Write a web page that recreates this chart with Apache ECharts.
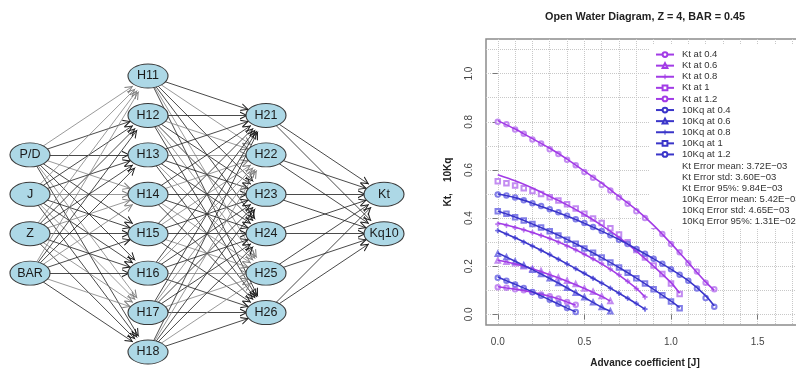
<!DOCTYPE html>
<html>
<head>
<meta charset="utf-8">
<script src="https://cdn.jsdelivr.net/npm/echarts@6/dist/echarts.min.js"></script>
<style>
  html, body { margin: 0; padding: 0; background: #fff; }
  #main { width: 796px; height: 370px; }
</style>
</head>
<body>
<div id="main"></div>
<script>
// ---- network diagram (left) ----
const inputNodes = ['P/D', 'J', 'Z', 'BAR'];
const hidden1Nodes = ['H11', 'H12', 'H13', 'H14', 'H15', 'H16', 'H17', 'H18'];
const hidden2Nodes = ['H21', 'H22', 'H23', 'H24', 'H25', 'H26'];
const outputNodes = ['Kt', 'Kq10'];
const layers = [inputNodes, hidden1Nodes, hidden2Nodes, outputNodes];
const layerRowStart = [2, 0, 1, 3];

// ---- open water diagram (right) ----
const pdValues = ['0.4', '0.6', '0.8', '1', '1.2'];

const jLine04 = [0, 0.1, 0.2, 0.3, 0.4, 0.45];
const jLine06 = [0, 0.1, 0.2, 0.3, 0.4, 0.5, 0.6, 0.65];
const jLine08 = [0, 0.1, 0.2, 0.3, 0.4, 0.5, 0.6, 0.7, 0.8, 0.85];
const jLine10 = [0, 0.1, 0.2, 0.3, 0.4, 0.5, 0.6, 0.7, 0.8, 0.9, 1.0, 1.05];
const jLine12 = [0, 0.1, 0.2, 0.3, 0.4, 0.5, 0.6, 0.7, 0.8, 0.9, 1.0, 1.1, 1.2, 1.25];
const jPoints = [0, 0.05, 0.1, 0.15, 0.2, 0.25, 0.3, 0.35, 0.4, 0.45, 0.5, 0.55, 0.6,
  0.65, 0.7, 0.75, 0.8, 0.85, 0.9, 0.95, 1.0, 1.05, 1.1, 1.15, 1.2, 1.25];

// predicted Kt
const ktLine04 = [0.115, 0.105, 0.092, 0.075, 0.052, 0.038];
const ktLine06 = [0.225, 0.21, 0.19, 0.165, 0.138, 0.108, 0.075, 0.055];
const ktLine08 = [0.38, 0.362, 0.34, 0.315, 0.285, 0.25, 0.21, 0.163, 0.108, 0.072];
const ktLine10 = [0.58, 0.555, 0.525, 0.49, 0.455, 0.415, 0.37, 0.32, 0.263, 0.2, 0.132, 0.088];
const ktLine12 = [0.805, 0.77, 0.73, 0.69, 0.645, 0.595, 0.545, 0.49, 0.435, 0.37, 0.295, 0.215, 0.135, 0.1];
// measured Kt
const ktPts04 = [0.113, 0.111, 0.104, 0.1, 0.092, 0.083, 0.075, 0.066, 0.052, 0.04];
const ktPts06 = [0.224, 0.219, 0.212, 0.2, 0.19, 0.18, 0.166, 0.153, 0.14, 0.126, 0.108, 0.094, 0.076, 0.056];
const ktPts08 = [0.375, 0.37, 0.36, 0.351, 0.34, 0.328, 0.316, 0.3, 0.284, 0.268, 0.25, 0.231, 0.212,
  0.188, 0.165, 0.138, 0.107, 0.072];
const ktPts10 = [0.553, 0.545, 0.535, 0.524, 0.513, 0.5, 0.487, 0.473, 0.458, 0.44, 0.418, 0.398, 0.38,
  0.358, 0.332, 0.3, 0.268, 0.236, 0.203, 0.168, 0.128, 0.085];
const ktPts12 = [0.8, 0.79, 0.768, 0.75, 0.727, 0.71, 0.686, 0.666, 0.642, 0.62, 0.592, 0.568, 0.538,
  0.515, 0.486, 0.46, 0.428, 0.4, 0.366, 0.334, 0.292, 0.258, 0.212, 0.178, 0.132, 0.105];

// predicted 10Kq
const kqLine04 = [0.155, 0.125, 0.094, 0.06, 0.026, 0.01];
const kqLine06 = [0.255, 0.221, 0.186, 0.149, 0.11, 0.07, 0.03, 0.013];
const kqLine08 = [0.35, 0.318, 0.284, 0.248, 0.21, 0.17, 0.13, 0.088, 0.045, 0.022];
const kqLine10 = [0.43, 0.405, 0.376, 0.345, 0.311, 0.275, 0.236, 0.195, 0.151, 0.104, 0.055, 0.028];
const kqLine12 = [0.5, 0.485, 0.462, 0.436, 0.409, 0.379, 0.346, 0.311, 0.272, 0.231, 0.188, 0.14, 0.078, 0.035];
// measured 10Kq
const kqPts04 = [0.152, 0.14, 0.124, 0.11, 0.093, 0.078, 0.061, 0.044, 0.027, 0.01];
const kqPts06 = [0.252, 0.238, 0.22, 0.204, 0.186, 0.168, 0.15, 0.13, 0.111, 0.09, 0.071, 0.05, 0.031, 0.013];
const kqPts08 = [0.348, 0.334, 0.318, 0.3, 0.284, 0.266, 0.249, 0.229, 0.21, 0.19, 0.171, 0.15, 0.13,
  0.109, 0.088, 0.067, 0.046, 0.022];
const kqPts10 = [0.428, 0.418, 0.404, 0.39, 0.376, 0.361, 0.345, 0.328, 0.31, 0.293, 0.274, 0.256, 0.236,
  0.216, 0.195, 0.173, 0.15, 0.128, 0.104, 0.08, 0.054, 0.026];
const kqPts12 = [0.498, 0.494, 0.486, 0.474, 0.462, 0.45, 0.437, 0.424, 0.41, 0.395, 0.38, 0.363, 0.346,
  0.329, 0.31, 0.292, 0.272, 0.252, 0.231, 0.21, 0.188, 0.165, 0.14, 0.108, 0.068, 0.032];

const xTicks = [0, 0.5, 1.0, 1.5];
const yTicks = [0, 0.2, 0.4, 0.6, 0.8, 1.0];
const errorLines = [
  'Kt Error mean: 3.72E\u221203',
  'Kt Error std: 3.60E\u221203',
  'Kt Error 95%: 9.84E\u221203',
  '10Kq Error mean: 5.42E\u221203',
  '10Kq Error std: 4.65E\u221203',
  '10Kq Error 95%: 1.31E\u221202'
];

const FONT = '"Liberation Sans", Arial, sans-serif';
const KT_COLOR = '#a23be6';
const KT_PT_COLOR = '#b978ee';
const KQ_COLOR = '#3a35c9';
const KQ_PT_COLOR = '#6d69e4';
const PLUS = 'path://M4,0 L6,0 L6,4 L10,4 L10,6 L6,6 L6,10 L4,10 L4,6 L0,6 L0,4 L4,4 Z';
const pdSymbols = ['emptyCircle', 'emptyTriangle', PLUS, 'emptyRect', 'emptyCircle'];

const jLines = [jLine04, jLine06, jLine08, jLine10, jLine12];
const ktLines = [ktLine04, ktLine06, ktLine08, ktLine10, ktLine12];
const ktPts = [ktPts04, ktPts06, ktPts08, ktPts10, ktPts12];
const kqLines = [kqLine04, kqLine06, kqLine08, kqLine10, kqLine12];
const kqPts = [kqPts04, kqPts06, kqPts08, kqPts10, kqPts12];

// graph nodes / links
const ELLIPSE = 'path://M20,-4 M0,12 A20,12 0 1,1 40,12 A20,12 0 1,1 0,12 Z M20,28';
const ARROW = 'path://M0,0 M16,16 M8,8 L12,16 L10.8,16 L8,10.2 L5.2,16 L4,16 Z';

const nodes = [];
layers.forEach((names, l) => {
  names.forEach((name, i) => {
    nodes.push({ name: name, value: [l, layerRowStart[l] + i] });
  });
});
const links = [];
for (let l = 0; l < layers.length - 1; l++) {
  layers[l].forEach((src, i) => {
    layers[l + 1].forEach((dst, j) => {
      const grey = (i * 3 + j * 2 + l) % 3 === 0;
      links.push({
        source: src,
        target: dst,
        lineStyle: { color: grey ? '#808080' : '#1c1c1c' }
      });
    });
  });
}

function makeCurveSeries(prefix, lines, pts, lineColor, ptColor) {
  const out = [];
  pdValues.forEach((pd, k) => {
    const name = prefix + ' at ' + pd;
    out.push({
      name: name,
      type: 'line',
      xAxisIndex: 0,
      yAxisIndex: 0,
      data: jLines[k].map((j, i) => [j, lines[k][i]]),
      smooth: 0.3,
      symbol: pdSymbols[k],
      symbolSize: 5,
      showSymbol: false,
      lineStyle: { color: lineColor, width: 1.6 },
      itemStyle: { color: lineColor },
      z: 3
    });
    out.push({
      name: name,
      type: 'scatter',
      xAxisIndex: 0,
      yAxisIndex: 0,
      data: pts[k].map((v, i) => [jPoints[i], v]),
      symbol: pdSymbols[k],
      symbolSize: 4.5,
      itemStyle: { color: ptColor, borderColor: ptColor, borderWidth: 1, opacity: 0.85 },
      z: 2
    });
  });
  return out;
}

const chart = echarts.init(document.getElementById('main'));

const option = {
  animation: false,
  backgroundColor: '#fff',
  textStyle: { fontFamily: FONT },
  grid: [
    {
      left: 486, right: -8, top: 39, bottom: 45,
      outerBoundsMode: 'none', containLabel: false,
      show: true, borderColor: '#8c8c8c', borderWidth: 1.5
    },
    { left: 30, width: 354, top: 76, height: 276, outerBoundsMode: 'none', show: false }
  ],
  xAxis: [
    {
      type: 'value',
      gridIndex: 0,
      min: -0.068,
      max: 1.768,
      splitNumber: 4,
      name: 'Advance coefficient [J]',
      nameLocation: 'middle',
      nameGap: 33,
      nameTextStyle: { fontFamily: FONT, fontSize: 10, fontWeight: 'bold', color: '#222' },
      axisLine: { show: false },
      axisTick: { show: true, customValues: xTicks, length: 5, lineStyle: { color: '#777' } },
      axisLabel: {
        customValues: xTicks,
        margin: 12,
        fontSize: 10,
        color: '#444',
        fontFamily: FONT,
        formatter: (v) => v.toFixed(1)
      },
      splitLine: { show: true, lineStyle: { color: '#c8c8c8', type: 'dotted', width: 1 } },
      minorTick: { show: false, splitNumber: 5 },
      minorSplitLine: { show: true, lineStyle: { color: '#c8c8c8', type: 'dotted', width: 1 } }
    },
    { type: 'value', gridIndex: 1, min: 0, max: 3, show: false }
  ],
  yAxis: [
    {
      type: 'value',
      gridIndex: 0,
      min: -0.044,
      max: 1.144,
      splitNumber: 5,
      name: 'Kt,    10Kq',
      nameLocation: 'middle',
      nameGap: 33,
      nameRotate: 90,
      nameTextStyle: { fontFamily: FONT, fontSize: 10, fontWeight: 'bold', color: '#222' },
      axisLine: { show: false },
      axisTick: { show: true, customValues: yTicks, length: 5, lineStyle: { color: '#777' } },
      axisLabel: {
        customValues: yTicks,
        rotate: 90,
        margin: 12,
        fontSize: 10,
        color: '#444',
        fontFamily: FONT,
        formatter: (v) => v.toFixed(1)
      },
      splitLine: { show: true, lineStyle: { color: '#c8c8c8', type: 'dotted', width: 1 } },
      minorTick: { show: false, splitNumber: 2 },
      minorSplitLine: { show: true, lineStyle: { color: '#c8c8c8', type: 'dotted', width: 1 } }
    },
    { type: 'value', gridIndex: 1, min: 0, max: 7, inverse: true, show: false }
  ],
  legend: {
    orient: 'vertical',
    left: 655,
    top: 49,
    itemWidth: 18,
    itemHeight: 6,
    itemGap: 0,
    selectedMode: false,
    padding: 0,
    textStyle: { fontFamily: FONT, fontSize: 9.5, color: '#333', lineHeight: 11.1, padding: [0, 0, 0, 3] },
    data: pdValues.map((p) => 'Kt at ' + p).concat(pdValues.map((p) => '10Kq at ' + p))
  },
  graphic: [
    {
      type: 'rect',
      z: 3,
      shape: { x: 650, y: 45, width: 146, height: 183 },
      style: { fill: '#fff' }
    },
    {
      type: 'text',
      x: 645,
      y: 17,
      style: {
        text: 'Open Water Diagram, Z = 4, BAR = 0.45',
        font: 'bold 10.8px ' + FONT,
        fill: '#222',
        align: 'center',
        verticalAlign: 'middle'
      }
    },
    {
      type: 'text',
      x: 682,
      y: 160.5,
      z: 4,
      style: {
        text: errorLines.join('\n'),
        font: '9.5px ' + FONT,
        lineHeight: 11.1,
        fill: '#333',
        align: 'left',
        verticalAlign: 'top'
      }
    }
  ],
  series: [
    {
      type: 'graph',
      coordinateSystem: 'cartesian2d',
      xAxisIndex: 1,
      yAxisIndex: 1,
      layout: 'none',
      silent: true,
      symbol: ELLIPSE,
      symbolSize: [40, 32],
      itemStyle: { color: '#add8e6', borderColor: '#3a3a3a', borderWidth: 1 },
      label: { show: true, position: 'inside', fontFamily: FONT, fontSize: 12.5, color: '#1a1a1a' },
      edgeSymbol: ['none', ARROW],
      edgeSymbolSize: 16,
      lineStyle: { width: 0.8, opacity: 1, curveness: 0 },
      data: nodes,
      links: links,
      z: 5
    }
  ]
    .concat(makeCurveSeries('Kt', ktLines, ktPts, KT_COLOR, KT_PT_COLOR))
    .concat(makeCurveSeries('10Kq', kqLines, kqPts, KQ_COLOR, KQ_PT_COLOR))
};

chart.setOption(option);
</script>
</body>
</html>
